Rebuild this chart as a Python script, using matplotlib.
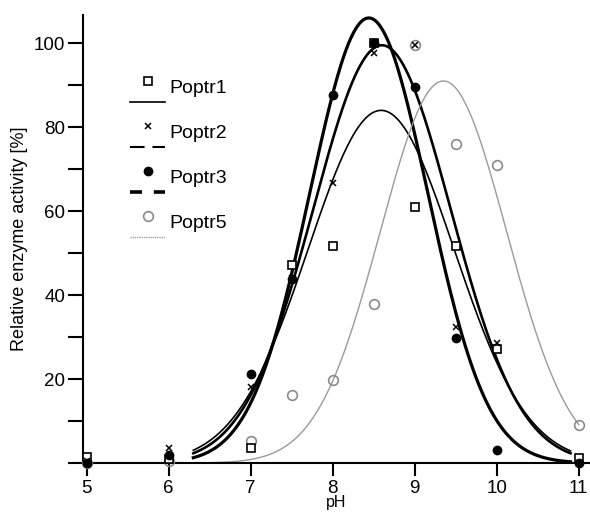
#!/usr/bin/env python3
"""
pH profile of Poptr enzymes: measured activity points and fitted Gaussian curves.
"""

import numpy as np
import matplotlib.pyplot as plt
from matplotlib.ticker import MultipleLocator

plt.rcParams['font.family'] = ['Liberation Sans', 'DejaVu Sans']

# Measured relative activity [%] at each pH
PH = [5, 6, 7, 7.5, 8, 8.5, 9, 9.5, 10, 11]
POPTR1 = [1.5, 1.0, 3.6, 47.1, 51.7, 100.0, 61.0, 51.7, 27.1, 1.2]
POPTR2 = [0.5, 3.5, 18.1, 44.0, 66.7, 97.6, 99.5, 32.4, 28.5, 0.0]
POPTR3 = [0.0, 2.0, 21.2, 43.8, 87.6, 100.0, 89.5, 29.8, 3.1, 0.0]
POPTR5 = [0.0, 0.5, 5.2, 16.2, 19.8, 37.9, 99.5, 76.0, 71.0, 9.0]

# Gaussian fit parameters (peak height, centre pH, width) and plotted pH range
NAMES = ['Poptr1', 'Poptr2', 'Poptr3', 'Poptr5']
FIT_PEAK = [84.0, 99.5, 106.0, 91.0]
FIT_CENTER = [8.59, 8.60, 8.44, 9.35]
FIT_WIDTH = [0.89, 0.84, 0.72, 0.77]
FIT_START = [6.3, 6.3, 6.3, 5.0]
FIT_END = [10.9, 10.9, 10.9, 11.0]

GRAY = '#8a8a8a'

def main():
    fig = plt.figure(figsize=(5.90, 5.18), dpi=100)
    ax = fig.add_axes([0.140, 0.106, 0.859, 0.865])

    data = [POPTR1, POPTR2, POPTR3, POPTR5]
    markers = [
        dict(marker='s', ms=5.5, mfc='white', mec='black', mew=1.2),
        dict(marker='x', ms=5, mec='black', mew=1.1),
        dict(marker='o', ms=6, mfc='black', mec='black'),
        dict(marker='o', ms=7, mfc='none', mec=GRAY, mew=1.2),
    ]
    lines = [
        dict(color='black', lw=1.2, ls='-'),
        dict(color='black', lw=1.9, ls='-'),
        dict(color='black', lw=2.3, ls='-'),
        dict(color='#9a9a9a', lw=1.0, ls='-'),
    ]
    legend_lines = [
        dict(color='black', lw=1.2, ls='-'),
        dict(color='black', lw=1.5, ls=(0, (7, 3.8))),
        dict(color='black', lw=2.6, ls=(0, (3.3, 3.3))),
        dict(color='#a0a0a0', lw=1.0, ls=(0, (1, 0.6))),
    ]

    # Fitted curves
    for i in range(4):
        x = np.linspace(FIT_START[i], FIT_END[i], 300)
        y = FIT_PEAK[i] * np.exp(-(x - FIT_CENTER[i]) ** 2 / (2 * FIT_WIDTH[i] ** 2))
        ax.plot(x, y, **lines[i], zorder=2)

    # Measured points (Poptr5 first so the others sit on top)
    for i in [3, 0, 1, 2]:
        ax.plot(PH, data[i], ls='none', **markers[i], clip_on=False, zorder=4)

    # Legend: marker above a line sample, label on the right
    for i, name in enumerate(NAMES):
        ym = 0.853 - i * 0.1005
        yl = ym - 0.047
        ax.plot([0.129], [ym], transform=ax.transAxes, ls='none', **markers[i], clip_on=False)
        ax.plot([0.094, 0.163], [yl, yl], transform=ax.transAxes, **legend_lines[i], clip_on=False)
        ax.text(0.171, ym - 0.017, name, transform=ax.transAxes, fontsize=14,
                ha='left', va='center')

    ax.set_xlim(4.95, 11.13)
    ax.set_ylim(0, 106.7)
    ax.set_xticks([5, 6, 7, 8, 9, 10, 11])
    ax.set_yticks([20, 40, 60, 80, 100])
    ax.yaxis.set_minor_locator(MultipleLocator(10))
    ax.tick_params(axis='both', which='both', direction='out', width=1.5, labelsize=13.5)
    ax.tick_params(axis='y', which='both', length=11, pad=1.5)
    ax.tick_params(axis='x', length=9, pad=3)

    for side in ['top', 'right']:
        ax.spines[side].set_visible(False)
    for side in ['left', 'bottom']:
        ax.spines[side].set_linewidth(1.5)

    ax.set_xlabel('pH', fontsize=11.5, labelpad=-1)
    ax.set_ylabel('Relative enzyme activity [%]', fontsize=13, labelpad=4)

    plt.savefig('out.png', dpi=100)
    plt.close()

if __name__ == '__main__':
    main()
